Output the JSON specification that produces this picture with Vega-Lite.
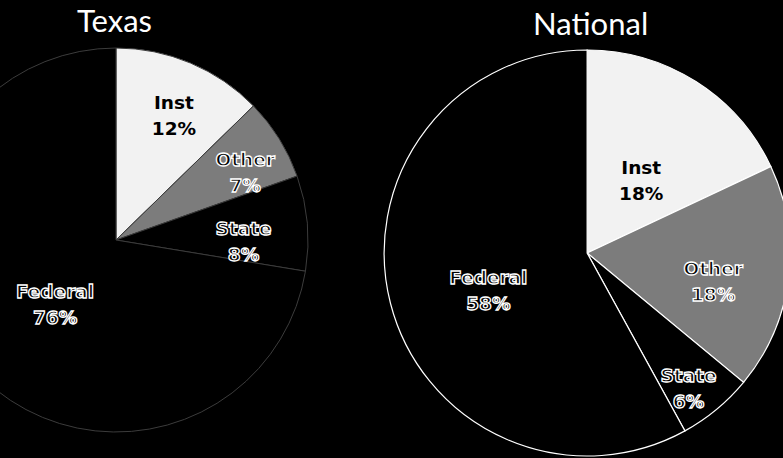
{
  "$schema": "https://vega.github.io/schema/vega-lite/v6.json",
  "width": 783,
  "height": 458,
  "padding": 0,
  "autosize": "none",
  "background": "#000000",
  "config": {"view": {"stroke": null}},
  "data": {
    "values": [
      {"region": "Texas", "source": "Inst", "pct": 12, "share": 12.7},
      {"region": "Texas", "source": "Other", "pct": 7, "share": 6.9},
      {"region": "Texas", "source": "State", "pct": 8, "share": 8.0},
      {"region": "Texas", "source": "Federal", "pct": 76, "share": 72.4},
      {"region": "National", "source": "Inst", "pct": 18, "share": 18},
      {"region": "National", "source": "Other", "pct": 18, "share": 18},
      {"region": "National", "source": "State", "pct": 6, "share": 6},
      {"region": "National", "source": "Federal", "pct": 58, "share": 58}
    ]
  },
  "transform": [
    {"calculate": "indexof(['Inst','Other','State','Federal'], datum.source)", "as": "k"},
    {"calculate": "datum.source + '\\n' + datum.pct + '%'", "as": "lbl"}
  ],
  "encoding": {
    "x": {"field": "region", "type": "nominal", "scale": {"type": "point", "domain": ["Texas", "National"], "padding": 0.331, "align": 0.372}, "axis": null},
    "y": {"field": "region", "type": "nominal", "scale": {"type": "point", "domain": ["Texas", "National"], "padding": 0, "range": [240, 253]}, "axis": null}
  },
  "layer": [
    {
      "transform": [{"filter": "datum.region === 'Texas'"}],
      "layer": [
        {
          "mark": {"type": "arc", "radius": 192, "stroke": "#3c3c3c", "strokeWidth": 1},
          "encoding": {
            "theta": {"field": "share", "type": "quantitative", "stack": true},
            "color": {"field": "source", "type": "nominal", "scale": {"domain": ["Inst", "Other", "State", "Federal"], "range": ["#f2f2f2", "#7c7c7c", "#000000", "#000000"]}, "legend": null},
            "order": {"field": "k", "type": "quantitative"}
          }
        },
        {
          "mark": {"type": "text", "radius": 149, "font": "DejaVu Sans", "fontWeight": "bold", "fontSize": 18.5, "lineHeight": 26, "lineBreak": "\n", "align": "center", "baseline": "middle", "fill": "#000000"},
          "encoding": {
            "theta": {"field": "share", "type": "quantitative", "stack": true},
            "detail": {"field": "source"},
            "order": {"field": "k", "type": "quantitative"},
            "text": {"condition": {"test": "datum.source === 'Inst'", "field": "lbl", "type": "nominal"}, "value": ""}
          }
        },
        {
          "mark": {"type": "text", "radius": 152, "font": "DejaVu Sans", "fontWeight": "bold", "fontSize": 18.5, "lineHeight": 26, "lineBreak": "\n", "align": "center", "baseline": "middle", "fill": "#000000", "stroke": "#ffffff", "strokeWidth": 1.3},
          "encoding": {
            "theta": {"field": "share", "type": "quantitative", "stack": true},
            "detail": {"field": "source"},
            "order": {"field": "k", "type": "quantitative"},
            "text": {"condition": {"test": "datum.source === 'Other'", "field": "lbl", "type": "nominal"}, "value": ""}
          }
        },
        {
          "mark": {"type": "text", "radius": 128, "font": "DejaVu Sans", "fontWeight": "bold", "fontSize": 18.5, "lineHeight": 26, "lineBreak": "\n", "align": "center", "baseline": "middle", "fill": "#000000", "stroke": "#ffffff", "strokeWidth": 1.3},
          "encoding": {
            "theta": {"field": "share", "type": "quantitative", "stack": true},
            "detail": {"field": "source"},
            "order": {"field": "k", "type": "quantitative"},
            "text": {"condition": {"test": "datum.source === 'State'", "field": "lbl", "type": "nominal"}, "value": ""}
          }
        },
        {
          "mark": {"type": "text", "radius": 80, "font": "DejaVu Sans", "fontWeight": "bold", "fontSize": 18.5, "lineHeight": 26, "lineBreak": "\n", "align": "center", "baseline": "middle", "fill": "#000000", "stroke": "#ffffff", "strokeWidth": 1.3},
          "encoding": {
            "theta": {"field": "share", "type": "quantitative", "stack": true},
            "detail": {"field": "source"},
            "order": {"field": "k", "type": "quantitative"},
            "text": {"condition": {"test": "datum.source === 'Federal'", "field": "lbl", "type": "nominal"}, "value": ""}
          }
        },
        {
          "transform": [{"aggregate": [{"op": "count", "as": "n"}], "groupby": ["region"]}],
          "mark": {"type": "text", "radius": 208, "theta": 0, "font": "Lato", "fontSize": 31, "fill": "#ffffff", "align": "center", "baseline": "alphabetic", "dx": -1.5},
          "encoding": {"text": {"field": "region", "type": "nominal"}}
        }
      ]
    },
    {
      "transform": [{"filter": "datum.region === 'National'"}],
      "layer": [
        {
          "mark": {"type": "arc", "radius": 203, "stroke": "#ffffff", "strokeWidth": 1.2},
          "encoding": {
            "theta": {"field": "share", "type": "quantitative", "stack": true},
            "color": {"field": "source", "type": "nominal", "scale": {"domain": ["Inst", "Other", "State", "Federal"], "range": ["#f2f2f2", "#7c7c7c", "#000000", "#000000"]}, "legend": null},
            "order": {"field": "k", "type": "quantitative"}
          }
        },
        {
          "mark": {"type": "text", "radius": 101, "font": "DejaVu Sans", "fontWeight": "bold", "fontSize": 18.5, "lineHeight": 26, "lineBreak": "\n", "align": "center", "baseline": "middle", "fill": "#000000"},
          "encoding": {
            "theta": {"field": "share", "type": "quantitative", "stack": true},
            "detail": {"field": "source"},
            "order": {"field": "k", "type": "quantitative"},
            "text": {"condition": {"test": "datum.source === 'Inst'", "field": "lbl", "type": "nominal"}, "value": ""}
          }
        },
        {
          "mark": {"type": "text", "radius": 127, "font": "DejaVu Sans", "fontWeight": "bold", "fontSize": 18.5, "lineHeight": 26, "lineBreak": "\n", "align": "center", "baseline": "middle", "fill": "#000000", "stroke": "#ffffff", "strokeWidth": 1.3},
          "encoding": {
            "theta": {"field": "share", "type": "quantitative", "stack": true},
            "detail": {"field": "source"},
            "order": {"field": "k", "type": "quantitative"},
            "text": {"condition": {"test": "datum.source === 'Other'", "field": "lbl", "type": "nominal"}, "value": ""}
          }
        },
        {
          "mark": {"type": "text", "radius": 159, "font": "DejaVu Sans", "fontWeight": "bold", "fontSize": 18.5, "lineHeight": 26, "lineBreak": "\n", "align": "center", "baseline": "middle", "fill": "#000000", "stroke": "#ffffff", "strokeWidth": 1.3},
          "encoding": {
            "theta": {"field": "share", "type": "quantitative", "stack": true},
            "detail": {"field": "source"},
            "order": {"field": "k", "type": "quantitative"},
            "text": {"condition": {"test": "datum.source === 'State'", "field": "lbl", "type": "nominal"}, "value": ""}
          }
        },
        {
          "mark": {"type": "text", "radius": 102, "font": "DejaVu Sans", "fontWeight": "bold", "fontSize": 18.5, "lineHeight": 26, "lineBreak": "\n", "align": "center", "baseline": "middle", "fill": "#000000", "stroke": "#ffffff", "strokeWidth": 1.3},
          "encoding": {
            "theta": {"field": "share", "type": "quantitative", "stack": true},
            "detail": {"field": "source"},
            "order": {"field": "k", "type": "quantitative"},
            "text": {"condition": {"test": "datum.source === 'Federal'", "field": "lbl", "type": "nominal"}, "value": ""}
          }
        },
        {
          "transform": [{"aggregate": [{"op": "count", "as": "n"}], "groupby": ["region"]}],
          "mark": {"type": "text", "radius": 218, "theta": 0, "font": "Lato", "fontSize": 31, "fill": "#ffffff", "align": "center", "baseline": "alphabetic", "dx": 3.5},
          "encoding": {"text": {"field": "region", "type": "nominal"}}
        }
      ]
    }
  ],
  "resolve": {"scale": {"theta": "independent"}}
}
